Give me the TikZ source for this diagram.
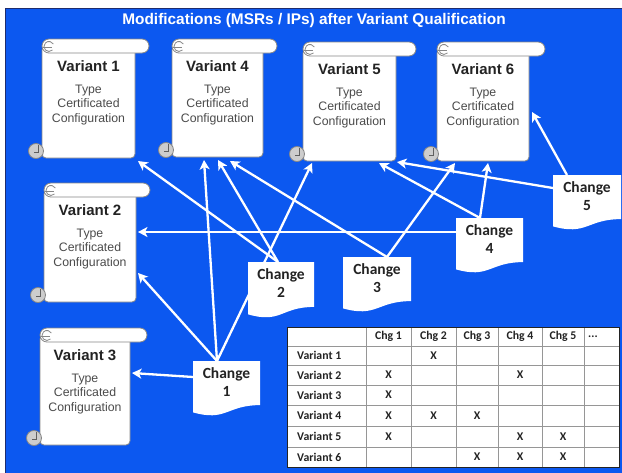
\documentclass[tikz,border=0pt]{standalone}
\usepackage{fontspec}
\setmainfont{Liberation Sans}
\newfontfamily\calfont{Carlito}
\usetikzlibrary{arrows.meta,calc}
\pgfdeclarelayer{bgl}
\pgfdeclarelayer{arrl}
\pgfsetlayers{bgl,arrl,main}
\definecolor{bgblue}{RGB}{12,88,240}
\definecolor{bgedge}{RGB}{30,45,110}
\definecolor{edgegray}{RGB}{135,135,135}
\definecolor{curlgray}{RGB}{205,205,205}
\definecolor{txtdark}{RGB}{35,35,35}
\definecolor{txtgray}{RGB}{75,75,75}
\definecolor{gridgray}{RGB}{150,150,150}
\tikzset{
  scrollpaint/.style={fill=white, draw=edgegray, line width=0.8pt},
  curlpaint/.style={fill=curlgray, draw=edgegray, line width=0.8pt},
  varname/.style={font=\bfseries\fontsize{15}{18}\selectfont, text=txtdark, inner sep=0pt},
  vardesc/.style={font=\fontsize{12.3}{14.5}\selectfont, text=txtgray, align=center, inner sep=0pt},
  chgtext/.style={font=\calfont\bfseries\fontsize{15.5}{18}\selectfont, text=txtdark, align=center, inner sep=0pt},
  conn/.style={draw=white, line width=2.3pt, -{Stealth[length=9.5pt,width=10pt,inset=2.5pt]}},
  tabtxt/.style={font=\calfont\bfseries\fontsize{11.8}{13}\selectfont, text=txtdark, inner sep=0pt},
  boxref/.style={inner sep=0pt, outer sep=0pt, anchor=north west}
}
% #1 name, #2 L, #3 R, #4 T, #5 B, #6 roll right end, #7 number
\newcommand\myscroll[7]{%
  \filldraw[scrollpaint, rounded corners=4pt] (#2,#4+7) rectangle (#3,#5);
  \filldraw[scrollpaint, rounded corners=7pt] (#2,#4) rectangle (#6,#4+14);
  \draw[edgegray, line width=0.8pt] (#2+10.5,#4+11) arc[start angle=-45, end angle=-330, radius=5pt];
  \draw[edgegray, line width=0.8pt] (#2+1,#4+8) -- (#2+10,#4+8);
  \filldraw[curlpaint] (#2-6,#5-7) circle (7.5pt);
  \draw[edgegray!70!black, line width=0.8pt] (#2-4,#5-13) -- (#2-4,#5-6) -- (#2-8,#5-6);
  \node[boxref, minimum width=#3pt-#2pt, minimum height=#5pt-#4pt] (#1) at (#2,#4) {};
  \node[varname] (#1a) at ({(#2+#3)/2},#4+27) {Variant #7};
  \node[vardesc] (#1b) at ({(#2+#3)/2},#4+66) {Type\\Certificated\\Configuration};
}
% #1 name, #2 L, #3 T, #4 W, #5 H, #6 number
\newcommand\mychange[6]{%
  \fill[white] (#2,#3) -- (#2+#4,#3) -- (#2+#4,#3+0.802*#5)
    .. controls (#2+0.5*#4,#3+0.802*#5) and (#2+0.5*#4,#3+1.107*#5) .. (#2,#3+0.934*#5) -- cycle;
  \node[boxref, minimum width=#4pt, minimum height=0.8*#5pt] (#1) at (#2,#3) {};
  \node[chgtext] (#1t) at (#2+0.5*#4,#3+21.5) {Change\\#6};
}
\begin{document}
\begin{tikzpicture}[x=1pt,y=-1pt]
\useasboundingbox (0,0) rectangle (622,472);
\begin{pgfonlayer}{bgl}
  \fill[white] (0,0) rectangle (622,472);
  \filldraw[fill=bgblue, draw=bgedge, line width=1pt] (5.5,8.5) rectangle (623,473);
\end{pgfonlayer}

\node[font=\bfseries\fontsize{15.4}{18}\selectfont, text=white, inner sep=0pt] (title) at (314,21) {Modifications (MSRs / IPs) after Variant Qualification};

\myscroll{v1}{42}{135}{39}{158}{149}{1}
\myscroll{v4}{172}{263}{39}{157}{277}{4}
\myscroll{v5}{303}{396}{42}{161}{416}{5}
\myscroll{v6}{437}{529}{42}{161}{545}{6}
\myscroll{v2}{44}{136}{183}{302}{150}{2}
\myscroll{v3}{40}{130}{328}{445}{147}{3}

\mychange{c1}{193}{361}{67}{55}{1}
\mychange{c2}{248}{262}{66}{56}{2}
\mychange{c3}{343}{257}{68}{55}{3}
\mychange{c4}{456}{218}{67}{55}{4}
\mychange{c5}{553}{175}{68}{55}{5}

\begin{pgfonlayer}{arrl}
  % Change 1
  \draw[conn] ($(c1.north west)+(0,16)$) -- ($(v3.north east)+(2,45)$);
  \draw[conn] ($(c1.north west)+(24,0)$) -- ($(v2.north east)+(2,90)$);
  \draw[conn] ($(c1.north west)+(24,0)$) -- ($(v4.south west)+(32,3)$);
  \draw[conn] ($(c1.north west)+(24,0)$) -- ($(v5.south west)+(9,2)$);
  % Change 2
  \draw[conn] ($(c2.north west)+(30,0)$) -- ($(v1.south east)+(3,3)$);
  \draw[conn] ($(c2.north west)+(30,0)$) -- ($(v4.south west)+(46,3)$);
  % Change 3
  \draw[conn] ($(c3.north west)+(44,0)$) -- ($(v4.south west)+(58,4)$);
  \draw[conn] ($(c3.north west)+(44,0)$) -- ($(v6.south west)+(18,2)$);
  % Change 4
  \draw[conn] ($(c4.north west)+(0,14)$) -- ($(v2.north east)+(2,49)$);
  \draw[conn] ($(c4.north west)+(24,0)$) -- ($(v5.south west)+(76,2)$);
  \draw[conn] ($(c4.north west)+(24,0)$) -- ($(v6.south west)+(51,2)$);
  % Change 5
  \draw[conn] ($(c5.north west)+(0,13)$) -- ($(v5.south east)+(1,1)$);
  \draw[conn] ($(c5.north west)+(14,0)$) -- ($(v6.north east)+(3,70)$);
\end{pgfonlayer}

% table
\fill[white] (287,327) rectangle (619,467);
\foreach \x in {366,411,456,498,542,584} \draw[gridgray, line width=1pt] (\x,327) -- (\x,467);
\foreach \y in {346,365,385,405,426,447} \draw[gridgray, line width=1pt] (287,\y) -- (619,\y);
\draw[txtdark, line width=1pt] (287,327) rectangle (619,467);
\foreach \n/\x in {1/388.5,2/433.5,3/477,4/520,5/563}
  \node[tabtxt] (h\n) at (\x,336.5) {Chg \n};
\node[tabtxt, anchor=west] (h6) at (588,336.5) {...};
\foreach \r/\y in {1/355.5,2/375,3/395,4/415.5,5/436.5,6/457}
  \node[tabtxt, anchor=west] (r\r) at (297,\y) {Variant \r};
\foreach \x/\y/\n in {433.5/355.5/a, 388.5/375/b, 520/375/c, 388.5/395/d,
  388.5/415.5/e, 433.5/415.5/f, 477/415.5/g, 388.5/436.5/h, 520/436.5/i,
  563/436.5/j, 477/457/k, 520/457/l, 563/457/m}
  \node[tabtxt] (x\n) at (\x,\y) {X};
\end{tikzpicture}
\end{document}
